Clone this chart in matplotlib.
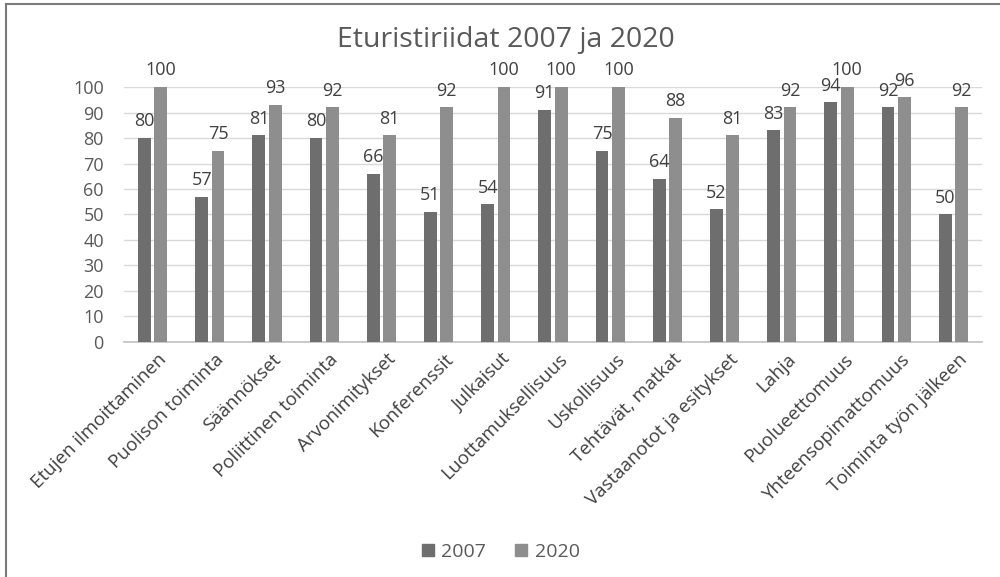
import matplotlib
matplotlib.use("Agg")
import matplotlib.pyplot as plt
import numpy as np
from matplotlib.lines import Line2D
import matplotlib.transforms as mtrans

categories = ["Etujen ilmoittaminen", "Puolison toiminta", "Säännökset",
              "Poliittinen toiminta", "Arvonimitykset", "Konferenssit",
              "Julkaisut", "Luottamuksellisuus", "Uskollisuus",
              "Tehtävät, matkat", "Vastaanotot ja esitykset", "Lahja",
              "Puolueettomuus", "Yhteensopimattomuus", "Toiminta työn jälkeen"]
values_2007 = [80, 57, 81, 80, 66, 51, 54, 91, 75, 64, 52, 83, 94, 92, 50]
values_2020 = [100, 75, 93, 92, 81, 92, 100, 100, 100, 88, 81, 92, 100, 96, 92]
series_names = ["2007", "2020"]
yticks = list(range(0, 101, 10))

plt.rcParams['font.family'] = ['Open Sans', 'DejaVu Sans']

fig = plt.figure(figsize=(10, 5.77), dpi=100)
ax = fig.add_axes([0.124, 0.4073, 0.858, 0.4419])

c1, c2 = "#6e6e6e", "#8e8e8e"
x = np.arange(len(categories))
w = 0.222
gap = 0.063
off = (w + gap) / 2
b1 = ax.bar(x - off, values_2007, w, color=c1, label=series_names[0], zorder=3)
b2 = ax.bar(x + off, values_2020, w, color=c2, label=series_names[1], zorder=3)

for bars, vals in ((b1, values_2007), (b2, values_2020)):
    for r, v in zip(bars, vals):
        ax.text(r.get_x() + r.get_width() / 2, v + 3, str(v), ha='center', va='bottom',
                fontsize=13, color="#404040", clip_on=False)

ax.set_xlim(-0.5, len(categories) - 0.5)
ax.set_ylim(0, 100)
ax.set_yticks(yticks)
ax.tick_params(axis='y', length=0, labelsize=13, labelcolor="#595959", pad=14.5)
ax.tick_params(axis='x', length=0, labelsize=13.5, labelcolor="#404040", pad=6)
ax.set_xticks(x)
ax.set_xticklabels(categories, rotation=45, ha='right', rotation_mode='anchor')
ax.grid(axis='y', color="#d9d9d9", lw=1, zorder=0)
for s in ['top', 'right', 'left']:
    ax.spines[s].set_visible(False)
ax.spines['bottom'].set_color("#c0c0c0")
ax.spines['bottom'].set_linewidth(1.2)

offset = mtrans.ScaledTranslation(5/100, 0, fig.dpi_scale_trans)
for lab in ax.get_xticklabels():
    lab.set_transform(lab.get_transform() + offset)

fig.text(0.506, 0.93, "Eturistiriidat 2007 ja 2020", ha='center', va='center',
         fontsize=20.5, color="#595959")

handles = [Line2D([], [], marker='s', linestyle='', color=c1, markersize=8.5),
           Line2D([], [], marker='s', linestyle='', color=c2, markersize=8.5)]
fig.legend(handles, series_names, loc='center', bbox_to_anchor=(0.5, 0.043), ncol=2,
           frameon=False, fontsize=14, handletextpad=0.3, columnspacing=1.4,
           labelcolor="#595959", handlelength=0.8)

# border (left and top lines)
fig.add_artist(Line2D([0.006, 0.006], [0, 0.993], transform=fig.transFigure, color="#7a7a7a", lw=1.5))
fig.add_artist(Line2D([0.006, 1.0], [0.993, 0.993], transform=fig.transFigure, color="#7a7a7a", lw=1.5))

fig.savefig("out.png", dpi=100)
